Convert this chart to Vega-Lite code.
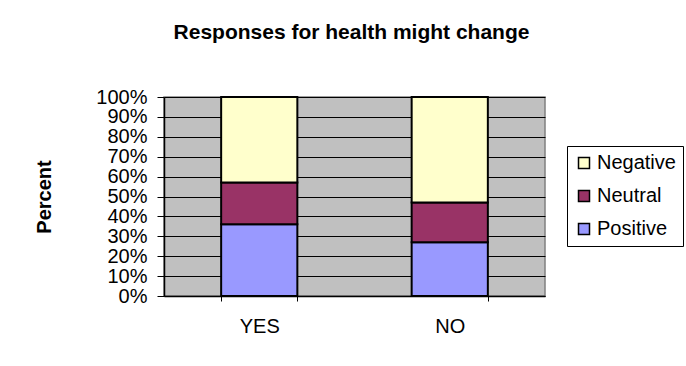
{
  "$schema": "https://vega.github.io/schema/vega-lite/v6.json",
  "autosize": "none",
  "width": 381,
  "height": 199,
  "padding": {"left": 164, "top": 97, "right": 141, "bottom": 70},
  "background": "white",
  "title": {
    "text": "Responses for health might change",
    "font": "Liberation Sans",
    "fontSize": 21,
    "fontWeight": "bold",
    "color": "black",
    "anchor": "middle",
    "dx": -3,
    "baseline": "alphabetic",
    "offset": 27
  },
  "data": {
    "values": [
      {"answer": "YES", "response": "Positive", "percent": 36},
      {"answer": "YES", "response": "Neutral", "percent": 21},
      {"answer": "YES", "response": "Negative", "percent": 43},
      {"answer": "NO", "response": "Positive", "percent": 27},
      {"answer": "NO", "response": "Neutral", "percent": 20},
      {"answer": "NO", "response": "Negative", "percent": 53}
    ]
  },
  "mark": {"type": "bar", "stroke": "black", "strokeWidth": 2},
  "encoding": {
    "x": {
      "field": "answer",
      "type": "nominal",
      "sort": ["YES", "NO"],
      "scale": {"paddingInner": 0.6, "paddingOuter": 0.3},
      "axis": {
        "title": null,
        "labelAngle": 0,
        "labelFont": "Liberation Sans",
        "labelFontSize": 20,
        "labelColor": "black",
        "labelPadding": 15,
        "tickBand": "extent",
        "tickSize": 5,
        "tickColor": "black",
        "domainColor": "black",
        "domainWidth": 1.5,
        "grid": false
      }
    },
    "y": {
      "field": "percent",
      "type": "quantitative",
      "stack": "normalize",
      "scale": {"domain": [0, 1], "nice": false},
      "axis": {
        "title": "Percent",
        "titleFont": "Liberation Sans",
        "titleFontSize": 20,
        "titleFontWeight": "bold",
        "titleColor": "black",
        "titleX": -120,
        "titleY": 99.5,
        "titleAngle": -90,
        "titleAlign": "center",
        "titleBaseline": "middle",
        "values": [0, 0.1, 0.2, 0.3, 0.4, 0.5, 0.6, 0.7, 0.8, 0.9, 1],
        "format": ".0%",
        "labelFont": "Liberation Sans",
        "labelFontSize": 20,
        "labelColor": "black",
        "labelPadding": 10,
        "labelOverlap": false,
        "labelBound": false,
        "labelFlush": false,
        "tickSize": 7,
        "tickColor": "black",
        "domainColor": "black",
        "domainWidth": 1.5,
        "grid": true,
        "gridColor": "black",
        "gridWidth": 1,
        "gridOpacity": 1
      }
    },
    "color": {
      "field": "response",
      "type": "nominal",
      "scale": {
        "domain": ["Negative", "Neutral", "Positive"],
        "range": ["#FFFFCC", "#993366", "#9999FF"]
      },
      "legend": {
        "title": null,
        "orient": "none",
        "legendX": 403,
        "legendY": 49,
        "strokeColor": "black",
        "fillColor": "white",
        "padding": 7,
        "symbolType": "square",
        "symbolSize": 121,
        "symbolStrokeColor": "black",
        "symbolStrokeWidth": 1.5,
        "symbolOpacity": 1,
        "labelFont": "Liberation Sans",
        "labelFontSize": 20,
        "labelColor": "black",
        "labelOffset": 3,
        "rowPadding": 13,
        "labelLimit": 200
      }
    },
    "order": {"field": "response", "sort": "descending"}
  },
  "config": {
    "view": {"fill": "#C0C0C0", "stroke": "#808080", "strokeWidth": 1.5}
  }
}
